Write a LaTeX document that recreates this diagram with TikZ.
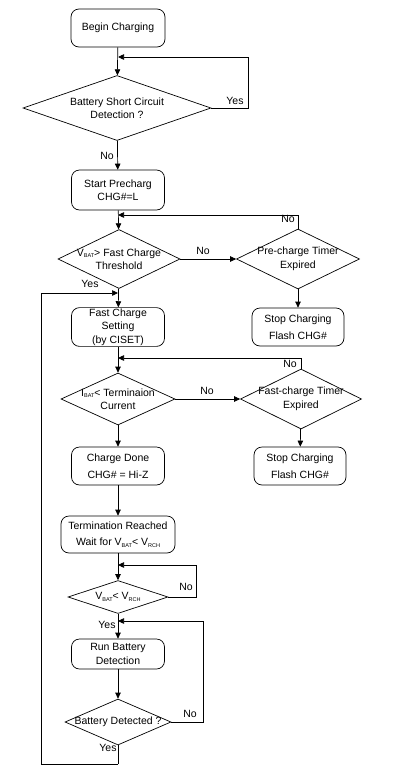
\documentclass[tikz,border=0pt]{standalone}
\usepackage{fontspec}
\setmainfont{Liberation Sans}
\usetikzlibrary{shapes,arrows.meta}
\newcommand{\fcsub}[1]{\raisebox{-0.35ex}{\fontsize{5.5}{6}\selectfont #1}}
\newcommand{\fcstep}[5] {\node at (#1) (#2) [stepbox, minimum width=#3, minimum height=#4] {#5};}
\newcommand{\fcdecision}[5] {\node at (#1) (#2) [diamond, draw, inner sep=0pt, minimum width=#3, minimum height=#4] {}; \node at (#2) (#2 text) [align=center, inner sep=0pt] {#5};}
\newcommand{\fcjoin}[2] {\coordinate (#2) at (#1);}
\newcommand{\fcflow}[2] {\draw [->] (#1) -- (#2);}
\newcommand{\fcloop}[3] {\draw [->] (#1) -- ++(#3,0) |- (#2);}
\newcommand{\fcupback}[2] {\draw [->] (#1) |- (#2);}
\newcommand{\fclabel}[3] {\node at (#1) (#2) {#3};}
\tikzset{
  stepbox/.style={rectangle, draw, rounded corners=8pt, align=center, inner sep=1pt},
  every picture/.style={line width=0.7pt, >={Triangle[length=6pt, width=5.5pt]}},
}

\begin{document}
\begin{tikzpicture}[x=1pt, y=-1pt, font=\fontsize{10.5}{13.5}\selectfont]
\useasboundingbox (0,0) rectangle (400,774);
% main column
\fcstep {118,28} {begin} {94pt} {38pt} {Begin Charging};
\fcdecision {117,108} {short} {188pt} {65pt} {Battery Short Circuit\\Detection ?};
\fcstep {118,190} {pre} {93pt} {40pt} {Start Precharg\\CHG\#=L};
\fcdecision {119,259} {vbat} {122pt} {59pt} {V\fcsub{BAT}> Fast Charge\\Threshold};
\fcstep {118,327} {fast} {93pt} {38pt} {Fast Charge\\Setting\\(by CISET)};
\fcdecision {118,399} {ibat} {114pt} {52pt} {I\fcsub{BAT}< Terminaion\\Current};
\fcstep {118,466} {done} {93pt} {38pt} {Charge Done\\[3pt]CHG\# = Hi-Z};
\fcstep {118,534.5} {term} {114pt} {37pt} {Termination Reached\\[2pt]Wait for V\fcsub{BAT}< V\fcsub{RCH}};
\fcdecision {118,597} {rch} {100pt} {33pt} {V\fcsub{BAT}< V\fcsub{RCH}};
\fcstep {118,654} {run} {93pt} {30pt} {Run Battery\\Detection};
\fcdecision {118,722} {det} {106pt} {46pt} {Battery Detected ?};
% right column
\fcdecision {298,259} {ptimer} {123pt} {60pt} {Pre-charge Timer\\Expired};
\fcstep {298,327} {stopa} {92pt} {38pt} {Stop Charging\\[3pt]Flash CHG\#};
\fcdecision {301,399} {ftimer} {121pt} {60pt} {Fast-charge Timer\\Expired};
\fcstep {300,466} {stopb} {92pt} {38pt} {Stop Charging\\[3pt]Flash CHG\#};

\fcjoin {118,57} {ja};
\fcjoin {118,215} {jb};
\fcjoin {118,293} {jc};
\fcjoin {118,358} {jd};
\fcjoin {118,565} {je};
\fcjoin {118,621} {jf};
\fcjoin {118,764} {bottom};
\fcjoin {41,764} {corner};

\fcflow {begin}{short};
\fcflow {short}{pre};
\fcflow {pre}{vbat};
\fcflow {vbat}{fast};
\fcflow {vbat}{ptimer};
\fcflow {ptimer}{stopa};
\fcflow {fast}{ibat};
\fcflow {ibat}{ftimer};
\fcflow {ftimer}{stopb};
\fcflow {ibat}{done};
\fcflow {done}{term};
\fcflow {term}{rch};
\fcflow {rch}{run};
\fcflow {run}{det};

\fcloop {short.east}{ja}{37};
\fcupback {ptimer.north}{jb};
\fcupback {ftimer.north}{jd};
\fcloop {rch.east}{je}{28};
\fcloop {det.east}{jf}{32};
\draw (det.south) -- (bottom);
\draw [->] (bottom) -- (corner) |- (jc);

\fclabel {235,101} {yesa} {Yes};
\fclabel {107,156} {noa} {No};
\fclabel {288,219} {nob} {No};
\fclabel {203,251} {noc} {No};
\fclabel {90,284} {yesb} {Yes};
\fclabel {207,391} {nod} {No};
\fclabel {290,364} {noe} {No};
\fclabel {186,587} {nof} {No};
\fclabel {107,625} {yesc} {Yes};
\fclabel {190,714} {nog} {No};
\fclabel {108,748} {yesd} {Yes};

\end{tikzpicture}
\end{document}
